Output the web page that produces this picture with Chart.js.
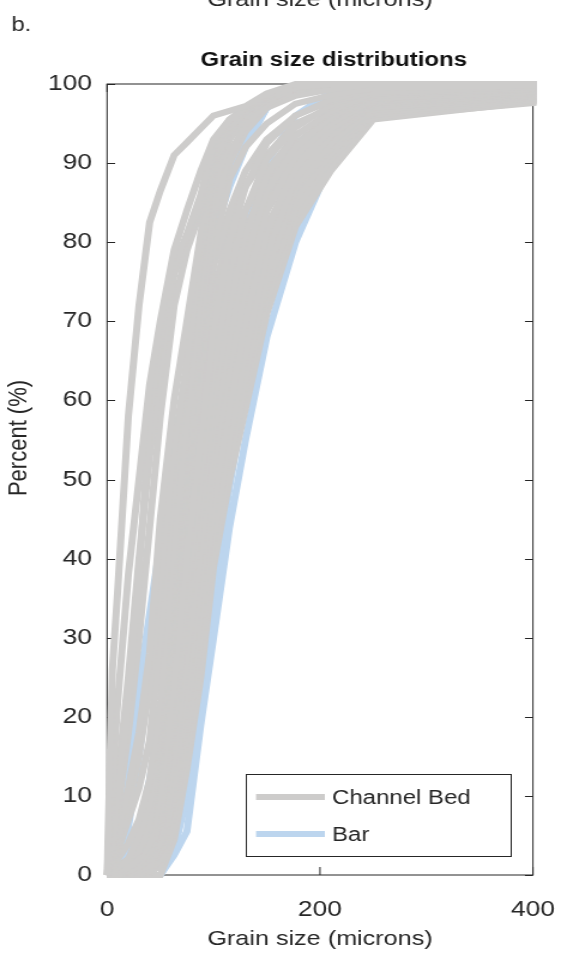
<!DOCTYPE html>
<html>
<head>
<meta charset="utf-8">
<script src="https://cdn.jsdelivr.net/npm/chart.js@4.4.0/dist/chart.umd.min.js"></script>
<style>
    html, body { margin: 0; padding: 0; background: #fff; overflow: hidden; }
    /* the figure is drawn narrow and widened to the page width */
    #wrap { width: 468px; height: 955px; transform-origin: 0 0; transform: scaleX(1.1987); }
    #chart { display: block; }
</style>
</head>
<body>
<div id="wrap"><canvas id="chart" width="468" height="955"></canvas></div>
<script>
// Sieve sizes (microns) shared by every cumulative curve
const SIZES = [0, 5, 10, 20, 30, 40, 50, 63, 75, 88, 100, 115, 130, 150, 177, 210, 250, 500];

const X_TICKS = [0, 200, 400];
const Y_TICKS = [0, 10, 20, 30, 40, 50, 60, 70, 80, 90, 100];

// Cumulative percent finer, one row per channel bed sample
const channelBed = [
    [0, 26, 36, 58, 72, 82.5, 86.5, 91, 92.6, 94.4, 96, 96.6, 97.2, 98.8, 100, 100, 100, 100],
    [0, 12, 22, 38, 50, 62, 70, 79, 84, 89, 93, 95.5, 97, 98.5, 99.6, 100, 100, 100],
    [0, 4, 10, 22, 38, 58, 68, 77, 81, 86, 92.5, 95.5, 97, 98.6, 99.8, 100, 100, 100],
    [0, 5, 12, 25, 40, 53, 64, 76, 80, 85, 92, 95, 96.8, 98.5, 99.6, 100, 100, 100],
    [0, 3, 8, 18, 30, 44, 58, 72, 79, 84, 91, 94.5, 96.5, 98.3, 99.5, 100, 100, 100],
    [0, 2, 5, 11, 18, 28, 45, 60, 70, 81, 91, 94.5, 96.5, 98.3, 99.5, 100, 100, 100],
    [0, 1.5, 4, 9, 15, 24, 37, 54, 65, 79, 90, 94, 96.2, 98, 99.4, 100, 100, 100],
    [0, 1, 3, 7, 11, 17, 30, 50, 64, 78, 89, 94, 96.5, 98.3, 99.5, 100, 100, 100],
    [0, 0.5, 2, 4, 7, 12, 22, 42, 58, 74, 87, 93, 96, 98, 99.4, 100, 100, 100],
    [0, 0, 1, 2, 5, 9, 20, 39, 56, 70, 84, 91, 95, 97.5, 99.2, 100, 100, 100],
    [0, 0.5, 1, 2, 3, 7, 18, 38, 57, 71, 86, 93, 96.5, 98.5, 99.5, 100, 100, 100],
    [0, 0.5, 1, 2, 3, 6, 17, 36, 53, 68, 83, 90, 94, 97, 98.5, 99.3, 100, 100],
    [0, 0, 1, 2, 3, 6, 15, 33, 51, 65, 79, 88, 92, 95, 97.5, 98.6, 99.5, 100],
    [0, 0, 0.5, 1, 2, 4, 10, 24, 40, 55, 69, 80, 87, 92.5, 96, 98, 99.5, 100],
    [0, 0, 0.5, 1.5, 2.5, 5, 14, 31, 48, 62, 77, 84, 89, 93, 96, 97.8, 99, 100],
    [0, 0, 0, 1, 1.5, 3, 8, 21, 36, 50, 64, 76, 84, 90.5, 94.5, 97.3, 99.2, 100],
    [0, 0, 0.5, 1.5, 2, 5, 13, 29, 45, 59, 73, 82, 87, 91, 95, 97, 98.8, 99.8],
    [0, 0, 0, 0.5, 1, 2.5, 7, 19, 33, 46, 60, 72, 81, 88.5, 93.5, 96.5, 98.8, 99.9],
    [0, 0, 0.5, 1, 2, 4.5, 12, 27, 42, 56, 70, 79, 84, 89, 93.5, 96.3, 98.5, 99.8],
    [0, 0, 0, 0.5, 1, 2, 5.5, 15, 28, 41, 56, 68, 78, 86.5, 92, 95.8, 98.5, 99.8],
    [0, 0, 0.5, 1, 2, 4, 11, 25, 40, 53, 67, 76, 81.5, 87.5, 92.5, 95.6, 98.2, 99.6],
    [0, 0, 0, 0.3, 0.6, 1.2, 4, 12, 24, 37, 52, 64, 74, 84, 91, 95, 98.1, 99.7],
    [0, 0, 0, 1, 1.5, 3.5, 10, 22, 37, 50, 64, 73, 79, 85.5, 91.3, 95, 97.9, 99.6],
    [0, 0, 0, 0.2, 0.4, 0.8, 3, 10, 21, 33, 47, 59, 70, 81.5, 89.5, 94.3, 97.8, 99.6],
    [0, 0, 0, 1, 1.5, 3, 8.5, 20, 34, 46, 61, 70, 76.5, 84, 90, 94.1, 97.6, 99.4],
    [0, 0, 0, 0, 0.2, 0.5, 2, 8, 18, 30, 43, 55, 66, 78.5, 88, 93.5, 97.5, 99.5],
    [0, 0, 0, 0.8, 1.2, 2.5, 7, 18, 31, 43, 58, 67, 74, 82, 89, 93.4, 97.3, 99.4],
    [0, 0, 0, 0, 0, 0.3, 1.2, 6, 15, 27, 40, 52, 63, 76, 87, 92.5, 97, 99.4],
    [0, 0, 0, 0.7, 1, 2, 6, 16, 28, 40, 55, 64, 71.5, 80, 88, 92.7, 97, 99.2],
    [0, 0, 0, 0.5, 0.8, 1.5, 5, 13, 25, 37, 51.5, 61.5, 69, 78.3, 86.7, 91.9, 96.7, 99.2],
    [0, 0, 0, 0.4, 0.6, 1, 3.5, 11, 22, 34, 48, 58.5, 66.5, 76.5, 85.5, 91.2, 96.4, 99],
    [0, 0, 0, 0.3, 0.4, 0.5, 2.5, 9, 19, 31, 45, 55.5, 64, 74.5, 84.3, 90.5, 96.1, 99],
    [0, 0, 0, 0.1, 0.2, 0.3, 1.2, 6.7, 16.4, 28, 42, 53, 61.5, 72.8, 83.2, 89.7, 95.8, 98.8],
    [0, 0, 0, 0, 0, 0, 0, 4.5, 13.5, 25, 39, 50, 59, 71, 82, 89, 95.5, 99.2]
];

// Cumulative percent finer, one row per bar sample
const bar = [
    [0, 0, 0, 0, 0, 0, 0, 2.5, 5.5, 19, 30, 44, 55, 68, 80, 90, 97, 100],
    [0, 0.5, 1, 3, 6, 12, 20, 42, 58, 72, 81, 87, 92, 97, 99, 99.7, 100, 100],
    [0, 0, 2, 12, 24, 33, 42, 52, 60, 70, 80, 88, 93, 97, 99, 100, 100, 100],
    [0, 0, 1, 6, 15, 26, 37, 48, 58, 72, 84, 90, 94, 97.5, 99.3, 100, 100, 100],
    [0, 1, 4, 10, 17, 24, 32, 45, 58, 71, 83, 89, 93, 97, 99, 100, 100, 100],
    [0, 0, 0, 0.5, 1, 2, 6, 18, 32, 47, 61, 73, 82, 90, 96, 99, 100, 100],
    [0, 0, 0, 0, 0, 0, 0, 3, 10, 22, 35, 49, 61, 73, 85, 93, 98, 100]
];

const GRAY = '#cdcccb';
const BLUE = '#bcd5ee';
const INK = '#262626';
const FONT = "'Liberation Sans', Arial, Helvetica, sans-serif";

function toPoints(pct) {
    return SIZES.map((s, i) => ({ x: s, y: pct[i] }));
}

function curve(pct, label, color) {
    return {
        label: label,
        data: toPoints(pct),
        borderColor: color,
        backgroundColor: color,
        borderWidth: 6,
        pointRadius: 0,
        tension: 0,
        fill: false,
        clip: 3
    };
}

// gray first so it is painted over the blue
const datasets = [
    ...channelBed.map(p => curve(p, 'Channel Bed', GRAY)),
    ...bar.map(p => curve(p, 'Bar', BLUE))
];

// axes box with inward ticks, painted under the curves
const axesBox = {
    id: 'axesBox',
    beforeDatasetsDraw(chart) {
        const { ctx, chartArea: a, scales: { x, y } } = chart;
        ctx.save();
        ctx.strokeStyle = INK;
        ctx.lineWidth = 1;
        ctx.strokeRect(a.left, a.top, a.right - a.left, a.bottom - a.top);
        ctx.beginPath();
        y.ticks.forEach(t => {
            const py = Math.round(y.getPixelForValue(t.value)) + 0.5;
            ctx.moveTo(a.left, py); ctx.lineTo(a.left + 6.7, py);
            ctx.moveTo(a.right, py); ctx.lineTo(a.right - 6.7, py);
        });
        x.ticks.forEach(t => {
            const px = x.getPixelForValue(t.value);
            ctx.moveTo(px, a.bottom); ctx.lineTo(px, a.bottom - 8);
            ctx.moveTo(px, a.top); ctx.lineTo(px, a.top + 8);
        });
        ctx.stroke();
        ctx.restore();
    },
    afterDraw(chart) {
        const { ctx, chartArea: a } = chart;
        const cx = (a.left + a.right) / 2;
        ctx.save();
        ctx.fillStyle = INK;

        // panel letter and the x title of the panel above
        ctx.font = '20px ' + FONT;
        ctx.textAlign = 'left';
        ctx.textBaseline = 'alphabetic';
        ctx.fillText('b.', 9.5, 31);
        ctx.textAlign = 'center';
        ctx.font = '21px ' + FONT;
        ctx.fillText('Grain size (microns)', cx, 6);

        ctx.fillStyle = '#111';
        ctx.font = 'bold 20px ' + FONT;
        ctx.fillText('Grain size distributions', cx + 11.5, 66);

        ctx.fillStyle = INK;
        ctx.font = '21px ' + FONT;
        ctx.fillText('Grain size (microns)', cx, 945);

        ctx.save();
        ctx.translate(22, 438);
        ctx.rotate(-Math.PI / 2);
        ctx.font = '22px ' + FONT;
        ctx.fillText('Percent (%)', 0, 0);
        ctx.restore();

        // legend
        const lx = 205.5, ly = 774.5, lw = 221, lh = 82;
        ctx.fillStyle = '#fff';
        ctx.fillRect(lx, ly, lw, lh);
        ctx.strokeStyle = INK;
        ctx.lineWidth = 1;
        ctx.strokeRect(lx, ly, lw, lh);
        const entries = [['Channel Bed', GRAY, 797], ['Bar', BLUE, 834]];
        ctx.font = '20px ' + FONT;
        ctx.textAlign = 'left';
        ctx.textBaseline = 'middle';
        entries.forEach(([text, color, yy]) => {
            ctx.strokeStyle = color;
            ctx.lineWidth = 6;
            ctx.beginPath();
            ctx.moveTo(213.6, yy);
            ctx.lineTo(271, yy);
            ctx.stroke();
            ctx.fillStyle = INK;
            ctx.fillText(text, 277, yy + 1);
        });
        ctx.restore();
    }
};

new Chart(document.getElementById('chart'), {
    type: 'line',
    data: { datasets: datasets },
    options: {
        responsive: false,
        animation: false,
        layout: { padding: { left: 0, right: 23.4, top: 84, bottom: 0 } },
        plugins: {
            legend: { display: false },
            title: { display: false },
            tooltip: { enabled: false }
        },
        scales: {
            x: {
                type: 'linear',
                min: 0,
                max: 400,
                afterBuildTicks: s => { s.ticks = X_TICKS.map(v => ({ value: v })); },
                afterFit: s => { s.height = 80; s.paddingLeft = 0; s.paddingRight = 0; },
                grid: { display: false, drawTicks: false },
                border: { display: false },
                ticks: { color: INK, padding: 22, maxRotation: 0, font: { family: FONT, size: 22 } }
            },
            y: {
                type: 'linear',
                min: 0,
                max: 100,
                afterBuildTicks: s => { s.ticks = Y_TICKS.map(v => ({ value: v })); },
                afterFit: s => { s.width = 89.3; s.paddingTop = 0; s.paddingBottom = 0; },
                grid: { display: false, drawTicks: false },
                border: { display: false },
                ticks: { color: INK, padding: 12.5, font: { family: FONT, size: 22 } }
            }
        }
    },
    plugins: [axesBox]
});
</script>
</body>
</html>
